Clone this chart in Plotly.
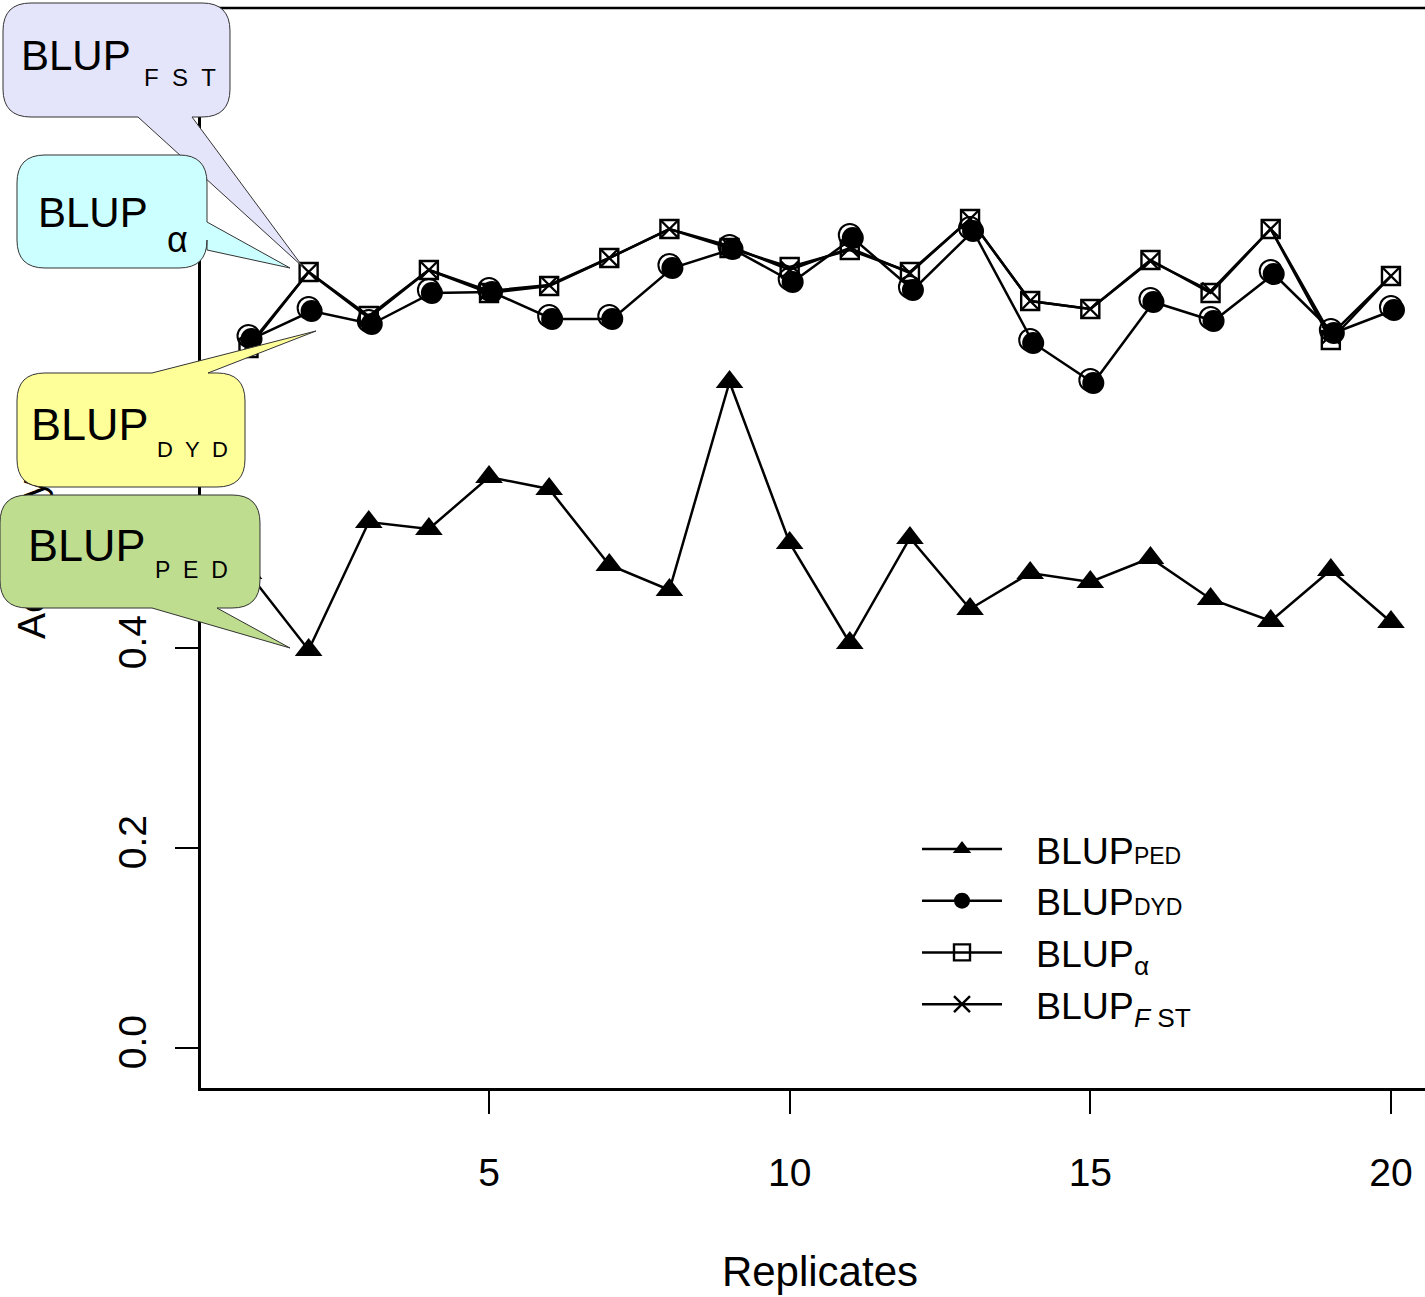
import plotly.graph_objects as go

# ---------------- data ----------------
replicates = list(range(1, 21))
blup_ped = [0.475, 0.398, 0.526, 0.519, 0.571, 0.559, 0.483, 0.458, 0.666, 0.505,
            0.405, 0.510, 0.439, 0.475, 0.466, 0.490, 0.449, 0.427, 0.478, 0.426]
blup_dyd = [0.712, 0.740, 0.727, 0.758, 0.759, 0.732, 0.732, 0.783, 0.802, 0.769,
            0.813, 0.761, 0.820, 0.708, 0.668, 0.749, 0.730, 0.777, 0.718, 0.741]
blup_alpha = [0.700, 0.776, 0.732, 0.778, 0.755, 0.762, 0.790, 0.819, 0.800, 0.781,
              0.798, 0.776, 0.829, 0.747, 0.739, 0.788, 0.755, 0.819, 0.708, 0.772]
blup_fst = [0.702, 0.776, 0.730, 0.778, 0.757, 0.763, 0.790, 0.819, 0.802, 0.778,
            0.800, 0.775, 0.829, 0.747, 0.739, 0.787, 0.757, 0.819, 0.713, 0.772]
x_ticks = [5, 10, 15, 20]
y_ticks = [0.0, 0.2, 0.4, 0.6, 0.8, 1.0]

# ---------------- layout constants ----------------
W, H = 1425, 1297
L, R, T, B = 201, 1425, 8, 1088
X_RANGE = [0.21, 20.566]
Y_RANGE = [-0.04, 1.04]
FONT = "Liberation Sans, Arial, sans-serif"

px_per_x = (R - L) / (X_RANGE[1] - X_RANGE[0])
px_per_y = (B - T) / (Y_RANGE[1] - Y_RANGE[0])
SHIFT = 3  # pixel offset of the filled circle relative to its outline
dx = SHIFT / px_per_x
dy = SHIFT / px_per_y


def pxx(x):
    return (x - L) / (R - L)


def pyy(y):
    return (B - y) / (B - T)


def P(x, y):
    return f"{pxx(x):.5f},{pyy(y):.5f}"


def bubble(x0, y0, x1, y1, r, edge, a, b, tip):
    tx, ty = tip
    s = f"M{P(x0 + r, y0)}"
    if edge == "top":
        s += f" L{P(a, y0)} L{P(tx, ty)} L{P(b, y0)}"
    s += f" L{P(x1 - r, y0)} Q{P(x1, y0)} {P(x1, y0 + r)}"
    if edge == "right":
        s += f" L{P(x1, a)} L{P(tx, ty)} L{P(x1, b)}"
    s += f" L{P(x1, y1 - r)} Q{P(x1, y1)} {P(x1 - r, y1)}"
    if edge == "bottom":
        s += f" L{P(b, y1)} L{P(tx, ty)} L{P(a, y1)}"
    s += f" L{P(x0 + r, y1)} Q{P(x0, y1)} {P(x0, y1 - r)}"
    s += f" L{P(x0, y0 + r)} Q{P(x0, y0)} {P(x0 + r, y0)} Z"
    return s


NB = "\u00a0"
PAD = f"<span style='font-size:26px'>{NB * 4}</span>"

fig = go.Figure()

line_style = dict(color="black", width=2.5)

fig.add_trace(go.Scatter(
    x=replicates, y=blup_ped, mode="lines+markers",
    name=f"{PAD}BLUP<span style='font-size:23px'>PED</span>",
    line=line_style, legendrank=1,
    marker=dict(symbol="triangle-up", size=24, color="black")))

# DYD outline (highlight) circles at true position
fig.add_trace(go.Scatter(
    x=replicates, y=blup_dyd, mode="markers", showlegend=False,
    marker=dict(symbol="circle", size=22, color="white", line=dict(color="black", width=2))))

fig.add_trace(go.Scatter(
    x=replicates, y=blup_alpha, mode="lines+markers", name=f"{PAD}BLUP<sub>α</sub>",
    line=line_style, legendrank=3,
    marker=dict(symbol="square-open", size=18, color="black", line=dict(width=2.4))))

fig.add_trace(go.Scatter(
    x=replicates, y=blup_fst, mode="lines+markers", name=f"{PAD}BLUP<sub><i>F</i> ST</sub>",
    line=line_style, legendrank=4,
    marker=dict(symbol="x-thin-open", size=17, color="black", line=dict(width=2.4))))

# DYD filled circles, drawn on a slightly shifted overlay axis
fig.add_trace(go.Scatter(
    x=replicates, y=blup_dyd, mode="lines+markers",
    name=f"{PAD}BLUP<span style='font-size:23px'>DYD</span>",
    line=line_style, legendrank=2, xaxis="x2", yaxis="y2",
    marker=dict(symbol="circle", size=22, color="black")))

shapes = [
    # top frame line
    dict(type="line", xref="paper", yref="paper", x0=0, x1=1, y0=1, y1=1,
         line=dict(color="black", width=2.5), layer="above"),
]

bubbles = [
    # (x0, y0, x1, y1, radius, edge, a, b, tip, fill)
    (3, 3, 230, 117, 28, "bottom", 138, 192, (303, 267), "#e4e4fa"),
    (17, 155, 207, 268, 28, "right", 222, 250, (290, 268), "#ccffff"),
    (17, 373, 245, 487, 28, "top", 152, 208, (316, 331), "#ffff99"),
    (0, 495, 260, 608, 28, "bottom", 152, 217, (290, 648), "#bfdd8f"),
]
for (x0, y0, x1, y1, r, edge, a, b, tip, fill) in bubbles:
    shapes.append(dict(type="path", xref="paper", yref="paper",
                       path=bubble(x0, y0, x1, y1, r, edge, a, b, tip),
                       fillcolor=fill, line=dict(color="#333333", width=1), layer="above"))

labels = [
    # main text, main size, main left, main center-y, sub text, sub left, sub center-y, sub size
    ("BLUP", 42, 19, 56, f"F{NB}{NB}S{NB}{NB}T", 142, 78, 24),
    ("BLUP", 42, 36, 213, "α", 165, 240, 36),
    ("BLUP", 45, 29, 424, f"D{NB}{NB}Y{NB}{NB}D", 155, 449, 22),
    ("BLUP", 45, 26, 545, f"P{NB}{NB}E{NB}{NB}D", 153, 570, 23),
]
annotations = []
for (t, ms, lx, cy, st, sx, scy, ss) in labels:
    annotations.append(dict(text=t, xref="paper", yref="paper", x=pxx(lx), y=pyy(cy),
                            xanchor="left", yanchor="middle", showarrow=False,
                            font=dict(family=FONT, size=ms, color="black")))
    annotations.append(dict(text=st, xref="paper", yref="paper", x=pxx(sx), y=pyy(scy),
                            xanchor="left", yanchor="middle", showarrow=False,
                            font=dict(family=FONT, size=ss, color="black")))

fig.update_layout(
    width=W, height=H,
    margin=dict(l=L, r=W - R, t=T, b=H - B, pad=0),
    plot_bgcolor="white", paper_bgcolor="white",
    font=dict(family=FONT, size=39, color="black"),
    showlegend=True,
    legend=dict(x=pxx(917), y=pyy(818), xanchor="left", yanchor="top",
                bgcolor="rgba(0,0,0,0)", borderwidth=0, itemwidth=80,
                font=dict(family=FONT, size=37.5), tracegroupgap=0, traceorder="normal"),
    xaxis=dict(range=X_RANGE, tickvals=x_ticks, ticks="outside", ticklen=23, tickwidth=2,
               tickcolor="black", showline=True, linecolor="black", linewidth=2.5,
               showgrid=False, zeroline=False, mirror=False, ticklabelstandoff=25,
               title=dict(text=f"<span style='font-size:50px'>{NB}</span>Replicates",
                          standoff=66, font=dict(size=42))),
    yaxis=dict(range=Y_RANGE, tickvals=y_ticks, tickformat=".1f", ticks="outside", ticklen=23,
               tickwidth=2, tickcolor="black", showline=True, linecolor="black", linewidth=2.5,
               showgrid=False, zeroline=False, tickangle=-90, ticklabelstandoff=14,
               title=dict(text=f"Accuracy<span>{NB}{NB}</span>", standoff=54,
                          font=dict(size=39))),
    xaxis2=dict(overlaying="x", range=[X_RANGE[0] - dx, X_RANGE[1] - dx], visible=False),
    yaxis2=dict(overlaying="y", range=[Y_RANGE[0] + dy, Y_RANGE[1] + dy], visible=False),
    shapes=shapes,
    annotations=annotations,
)

# remove the default page margin and keep the y-axis title beneath the callouts
post = """
document.body.style.margin = '0';
var gd = document.getElementById('{plot_id}');
var t = gd.querySelector('.g-ytitle');
var la = gd.querySelector('.layer-above');
if (t && la) { la.parentNode.insertBefore(t, la); }
"""

fig.write_html("out.html", post_script=post, config={"displayModeBar": False})
